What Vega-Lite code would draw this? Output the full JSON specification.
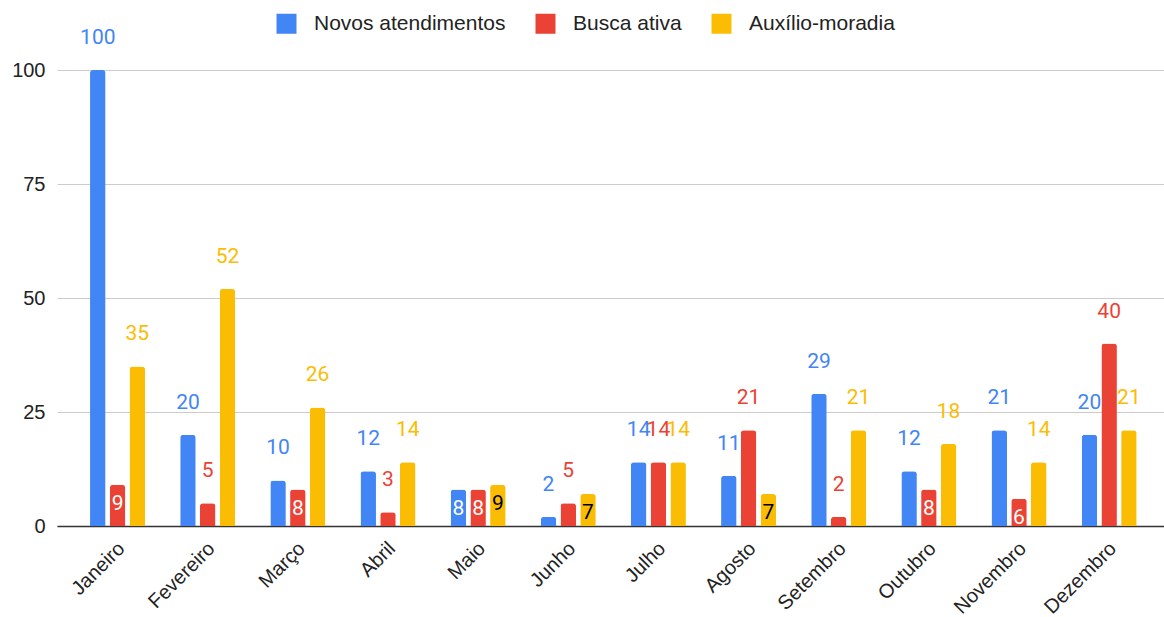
{
  "$schema": "https://vega.github.io/schema/vega-lite/v6.json",
  "width": 1107,
  "height": 456,
  "autosize": {"type": "none"},
  "padding": {"left": 57, "top": 70, "right": 0, "bottom": 91},
  "background": "white",
  "config": {
    "font": "Liberation Sans",
    "view": {"stroke": null}
  },
  "data": {
    "values": [
      {"Mes": "Janeiro", "Serie": "Novos atendimentos", "Valor": 100},
      {"Mes": "Janeiro", "Serie": "Busca ativa", "Valor": 9},
      {"Mes": "Janeiro", "Serie": "Auxílio-moradia", "Valor": 35},
      {"Mes": "Fevereiro", "Serie": "Novos atendimentos", "Valor": 20},
      {"Mes": "Fevereiro", "Serie": "Busca ativa", "Valor": 5},
      {"Mes": "Fevereiro", "Serie": "Auxílio-moradia", "Valor": 52},
      {"Mes": "Março", "Serie": "Novos atendimentos", "Valor": 10},
      {"Mes": "Março", "Serie": "Busca ativa", "Valor": 8},
      {"Mes": "Março", "Serie": "Auxílio-moradia", "Valor": 26},
      {"Mes": "Abril", "Serie": "Novos atendimentos", "Valor": 12},
      {"Mes": "Abril", "Serie": "Busca ativa", "Valor": 3},
      {"Mes": "Abril", "Serie": "Auxílio-moradia", "Valor": 14},
      {"Mes": "Maio", "Serie": "Novos atendimentos", "Valor": 8},
      {"Mes": "Maio", "Serie": "Busca ativa", "Valor": 8},
      {"Mes": "Maio", "Serie": "Auxílio-moradia", "Valor": 9},
      {"Mes": "Junho", "Serie": "Novos atendimentos", "Valor": 2},
      {"Mes": "Junho", "Serie": "Busca ativa", "Valor": 5},
      {"Mes": "Junho", "Serie": "Auxílio-moradia", "Valor": 7},
      {"Mes": "Julho", "Serie": "Novos atendimentos", "Valor": 14},
      {"Mes": "Julho", "Serie": "Busca ativa", "Valor": 14},
      {"Mes": "Julho", "Serie": "Auxílio-moradia", "Valor": 14},
      {"Mes": "Agosto", "Serie": "Novos atendimentos", "Valor": 11},
      {"Mes": "Agosto", "Serie": "Busca ativa", "Valor": 21},
      {"Mes": "Agosto", "Serie": "Auxílio-moradia", "Valor": 7},
      {"Mes": "Setembro", "Serie": "Novos atendimentos", "Valor": 29},
      {"Mes": "Setembro", "Serie": "Busca ativa", "Valor": 2},
      {"Mes": "Setembro", "Serie": "Auxílio-moradia", "Valor": 21},
      {"Mes": "Outubro", "Serie": "Novos atendimentos", "Valor": 12},
      {"Mes": "Outubro", "Serie": "Busca ativa", "Valor": 8},
      {"Mes": "Outubro", "Serie": "Auxílio-moradia", "Valor": 18},
      {"Mes": "Novembro", "Serie": "Novos atendimentos", "Valor": 21},
      {"Mes": "Novembro", "Serie": "Busca ativa", "Valor": 6},
      {"Mes": "Novembro", "Serie": "Auxílio-moradia", "Valor": 14},
      {"Mes": "Dezembro", "Serie": "Novos atendimentos", "Valor": 20},
      {"Mes": "Dezembro", "Serie": "Busca ativa", "Valor": 40},
      {"Mes": "Dezembro", "Serie": "Auxílio-moradia", "Valor": 21}
    ]
  },
  "encoding": {
    "x": {
      "field": "Mes", "type": "nominal", "sort": null,
      "scale": {"paddingInner": 0.39, "paddingOuter": 0.335, "align": 0.547},
      "axis": {
        "title": null, "labelAngle": -45, "labelFontSize": 20, "labelColor": "#222",
        "ticks": false, "domainColor": "#333", "domainWidth": 1.5, "labelPadding": 12, "labelOffset": -3
      }
    },
    "xOffset": {
      "field": "Serie", "type": "nominal", "sort": ["Novos atendimentos", "Busca ativa", "Auxílio-moradia"],
      "scale": {"paddingInner": 0.215, "paddingOuter": 0}
    },
    "y": {
      "field": "Valor", "type": "quantitative",
      "scale": {"domain": [0, 100], "nice": false},
      "axis": {
        "title": null, "values": [0, 25, 50, 75, 100], "labelFontSize": 20, "labelColor": "#222",
        "ticks": false, "domain": false, "gridColor": "#cccccc", "labelPadding": 12
      }
    }
  },
  "layer": [
    {
      "mark": {"type": "bar", "cornerRadiusTopLeft": 3, "cornerRadiusTopRight": 3},
      "encoding": {
        "color": {
          "field": "Serie", "type": "nominal",
          "sort": ["Novos atendimentos", "Busca ativa", "Auxílio-moradia"],
          "scale": {"domain": ["Novos atendimentos", "Busca ativa", "Auxílio-moradia"], "range": ["#4285F4", "#EA4335", "#FBBC04"]},
          "legend": {
            "title": null, "orient": "none", "direction": "horizontal",
            "legendX": 219, "legendY": -57,
            "symbolType": "square", "symbolSize": 400, "symbolStrokeWidth": 0,
            "labelFontSize": 21, "labelColor": "#222", "labelOffset": 17, "columnPadding": 29, "labelLimit": 400
          }
        }
      }
    },
    {
      "transform": [
        {"filter": "!((datum.Mes === 'Janeiro' && datum.Serie === 'Busca ativa') || (datum.Mes === 'Março' && datum.Serie === 'Busca ativa') || datum.Mes === 'Maio' || (datum.Mes === 'Junho' && datum.Serie === 'Auxílio-moradia') || (datum.Mes === 'Agosto' && datum.Serie === 'Auxílio-moradia') || (datum.Mes === 'Outubro' && datum.Serie === 'Busca ativa') || (datum.Mes === 'Novembro' && datum.Serie === 'Busca ativa'))"}
      ],
      "mark": {"type": "text", "font": "Roboto", "fontSize": 21, "baseline": "middle", "dy": -32, "clip": false},
      "encoding": {
        "text": {"field": "Valor", "type": "quantitative"},
        "color": {"field": "Serie", "type": "nominal", "legend": null}
      }
    },
    {
      "transform": [
        {"filter": "(datum.Mes === 'Janeiro' && datum.Serie === 'Busca ativa') || (datum.Mes === 'Março' && datum.Serie === 'Busca ativa') || datum.Mes === 'Maio' || (datum.Mes === 'Junho' && datum.Serie === 'Auxílio-moradia') || (datum.Mes === 'Agosto' && datum.Serie === 'Auxílio-moradia') || (datum.Mes === 'Outubro' && datum.Serie === 'Busca ativa') || (datum.Mes === 'Novembro' && datum.Serie === 'Busca ativa')"}
      ],
      "mark": {"type": "text", "font": "Roboto", "fontSize": 21, "baseline": "middle", "dy": 19},
      "encoding": {
        "text": {"field": "Valor", "type": "quantitative"},
        "color": {
          "condition": {"test": "datum.Serie === 'Auxílio-moradia'", "value": "#000000"},
          "value": "#ffffff"
        }
      }
    }
  ]
}
